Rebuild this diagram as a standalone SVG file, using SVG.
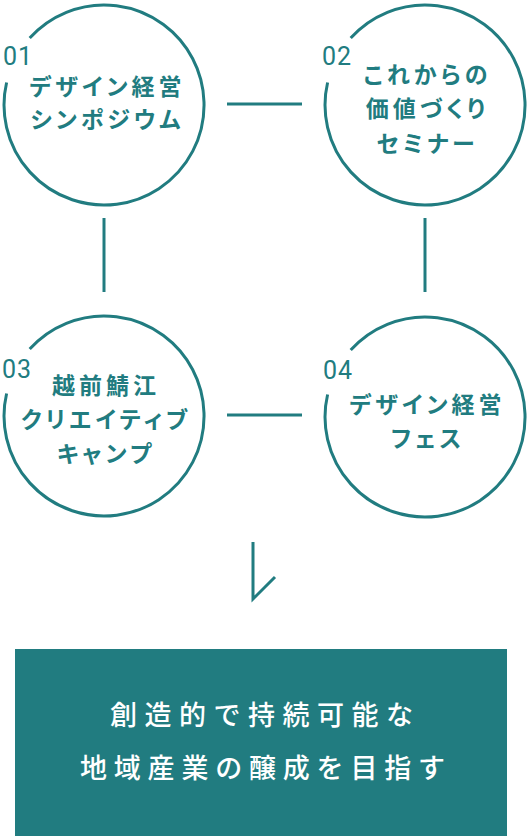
<svg xmlns="http://www.w3.org/2000/svg" xmlns:xlink="http://www.w3.org/1999/xlink" width="529" height="836" viewBox="0 0 529 836">
<style>
.ring{fill:none;stroke:#217c80;stroke-width:3}
.conn{fill:none;stroke:#217c80;stroke-width:3}
.num{font-family:Roboto,"Liberation Sans",sans-serif;font-size:25px;fill:#217c80;letter-spacing:1px}
.lbl{font-family:"Noto Sans CJK JP","Noto Sans",sans-serif;font-size:23px;font-weight:700;fill:#217c80;letter-spacing:4px;text-anchor:middle;font-feature-settings:"palt"}
.goal{font-family:"Noto Sans CJK JP","Noto Sans",sans-serif;font-size:27px;font-weight:500;fill:#ffffff}
</style>
<defs>
<path id="ringpath" class="ring" d="M -74.3 -66.9 A 100 100 0 1 1 -97.4 -22.5"/>
</defs>
<rect width="529" height="836" fill="#ffffff"/>
<g id="connectors">
<line class="conn" x1="227" y1="104" x2="302" y2="104"/>
<line class="conn" x1="104" y1="218" x2="104" y2="292"/>
<line class="conn" x1="425" y1="218" x2="425" y2="292"/>
<line class="conn" x1="227" y1="415" x2="302" y2="415"/>
<polyline class="conn" points="253,542 253,599 275,577"/>
</g>
<g id="node1">
<use xlink:href="#ringpath" href="#ringpath" transform="translate(104,105)"/>
<text class="num" x="3" y="65">01</text>
<text class="lbl" x="107.5" y="95">デザイン経営</text>
<text class="lbl" x="107.5" y="128">シンポジウム</text>
</g>
<g id="node2">
<use xlink:href="#ringpath" href="#ringpath" transform="translate(425,105)"/>
<text class="num" x="322" y="65">02</text>
<text class="lbl" x="427.5" y="83">これからの</text>
<text class="lbl" x="427.5" y="117">価値づくり</text>
<text class="lbl" x="427.5" y="152">セミナー</text>
</g>
<g id="node3">
<use xlink:href="#ringpath" href="#ringpath" transform="translate(104,416)"/>
<text class="num" x="2" y="378">03</text>
<text class="lbl" x="106" y="394">越前鯖江</text>
<text class="lbl" x="106" y="428">クリエイティブ</text>
<text class="lbl" x="106" y="462">キャンプ</text>
</g>
<g id="node4">
<use xlink:href="#ringpath" href="#ringpath" transform="translate(425,417)"/>
<text class="num" x="323" y="379">04</text>
<text class="lbl" x="427.5" y="413">デザイン経営</text>
<text class="lbl" x="428" y="447">フェス</text>
</g>
<g id="goal">
<rect x="15" y="649" width="492" height="187" fill="#217c80"/>
<text class="goal" x="110" y="725" letter-spacing="7.5">創造的で持続可能な</text>
<text class="goal" x="80" y="778" letter-spacing="6.8">地域産業の醸成を目指す</text>
</g>
</svg>
